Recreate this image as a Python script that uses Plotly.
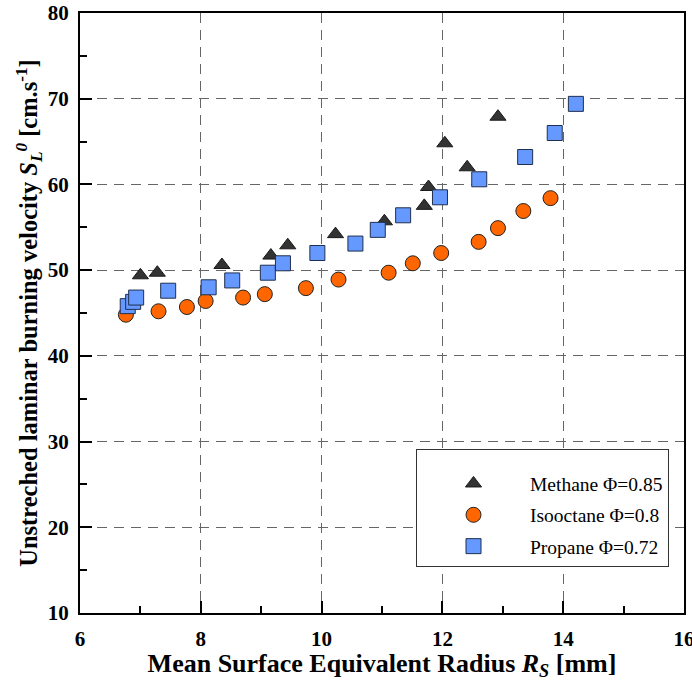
import plotly.graph_objects as go

# Data
methane_x = [7.00, 7.28, 8.35, 9.16, 9.44, 10.23, 11.04, 11.70, 11.77, 12.04, 12.41, 12.92]
methane_y = [49.4, 49.7, 50.6, 51.7, 52.9, 54.2, 55.7, 57.5, 59.7, 64.8, 62.0, 67.9]

isooctane_x = [6.76, 7.30, 7.77, 8.08, 8.70, 9.06, 9.74, 10.28, 11.11, 11.51, 11.98, 12.60, 12.92, 13.34, 13.79]
isooctane_y = [44.8, 45.2, 45.7, 46.4, 46.8, 47.2, 47.9, 48.9, 49.7, 50.8, 52.0, 53.3, 54.9, 56.9, 58.4]

propane_x = [6.79, 6.88, 6.93, 7.46, 8.13, 8.52, 9.11, 9.36, 9.93, 10.56, 10.93, 11.35, 11.96, 12.61, 13.37, 13.86, 14.21]
propane_y = [45.8, 46.3, 46.8, 47.6, 48.0, 48.8, 49.7, 50.8, 52.0, 53.1, 54.7, 56.4, 58.5, 60.6, 63.2, 66.0, 69.4]

names = ["Methane Φ=0.85", "Isooctane Φ=0.8", "Propane Φ=0.72"]

x_ticks = [6, 8, 10, 12, 14, 16]
y_ticks = [10, 20, 30, 40, 50, 60, 70, 80]

FONT = "Liberation Serif, Times New Roman, serif"

fig = go.Figure()
fig.add_trace(go.Scatter(x=methane_x, y=methane_y, mode="markers", name=names[0],
                         legendgroup="a",
                         marker=dict(symbol="triangle-up", size=14, color="#333333",
                                     line=dict(color="#1a1a1a", width=1))))
fig.add_trace(go.Scatter(x=isooctane_x, y=isooctane_y, mode="markers", name=names[1],
                         legendgroup="b",
                         marker=dict(symbol="circle", size=15, color="#FF6600",
                                     line=dict(color="#222222", width=1))))
fig.add_trace(go.Scatter(x=propane_x, y=propane_y, mode="markers", name=names[2],
                         legendgroup="c",
                         marker=dict(symbol="square", size=15, color="#6699FF",
                                     line=dict(color="#1f2f4f", width=1))))

axis_common = dict(
    showline=True, linecolor="black", linewidth=2, mirror=True,
    ticks="inside", ticklen=12, tickwidth=1.5, tickcolor="black",
    showgrid=True, gridcolor="#666666", gridwidth=1, griddash="10px,7px",
    zeroline=False, automargin=False, ticklabeloverflow="allow",
    tickfont=dict(family=FONT, size=21, color="black", weight="bold"),
)

fig.update_xaxes(
    range=[6, 16], tickvals=x_ticks, ticktext=[str(v) for v in x_ticks],
    minor=dict(dtick=1, tick0=6, ticks="inside", ticklen=7, tickcolor="black", tickwidth=1.5, showgrid=False),
    title=dict(text="<b>Mean Surface Equivalent Radius <i>R<sub>S</sub></i> [mm]</b>",
               font=dict(family=FONT, size=26, color="black"), standoff=2),
    ticklabelstandoff=6,
    **axis_common)
fig.update_yaxes(
    range=[10, 80], tickvals=y_ticks, ticktext=[str(v) for v in y_ticks],
    minor=dict(dtick=5, tick0=10, ticks="inside", ticklen=7, tickcolor="black", tickwidth=1.5, showgrid=False),
    title=dict(text="<b>Unstreched laminar burning velocity <i>S<sub>L</sub><sup>0</sup></i> [cm.s<sup>-1</sup>]</b>",
               font=dict(family=FONT, size=24.5, color="black"), standoff=3),
    ticklabelstandoff=5,
    **axis_common)

fig.update_layout(
    width=692, height=681,
    margin=dict(l=80, r=8, t=13, b=68),
    plot_bgcolor="white", paper_bgcolor="white",
    showlegend=True,
    legend=dict(x=0.5563, xanchor="left", y=0.0767, yanchor="bottom",
                bordercolor="#333333", borderwidth=1, bgcolor="white",
                font=dict(family=FONT, size=19.5, color="black"),
                title=dict(text="\u00a0", font=dict(size=11)),
                itemwidth=103, tracegroupgap=3, traceorder="grouped"),
)

fig.write_html("out.html", config={"displayModeBar": False},
               post_script="document.body.style.margin='0px';")
